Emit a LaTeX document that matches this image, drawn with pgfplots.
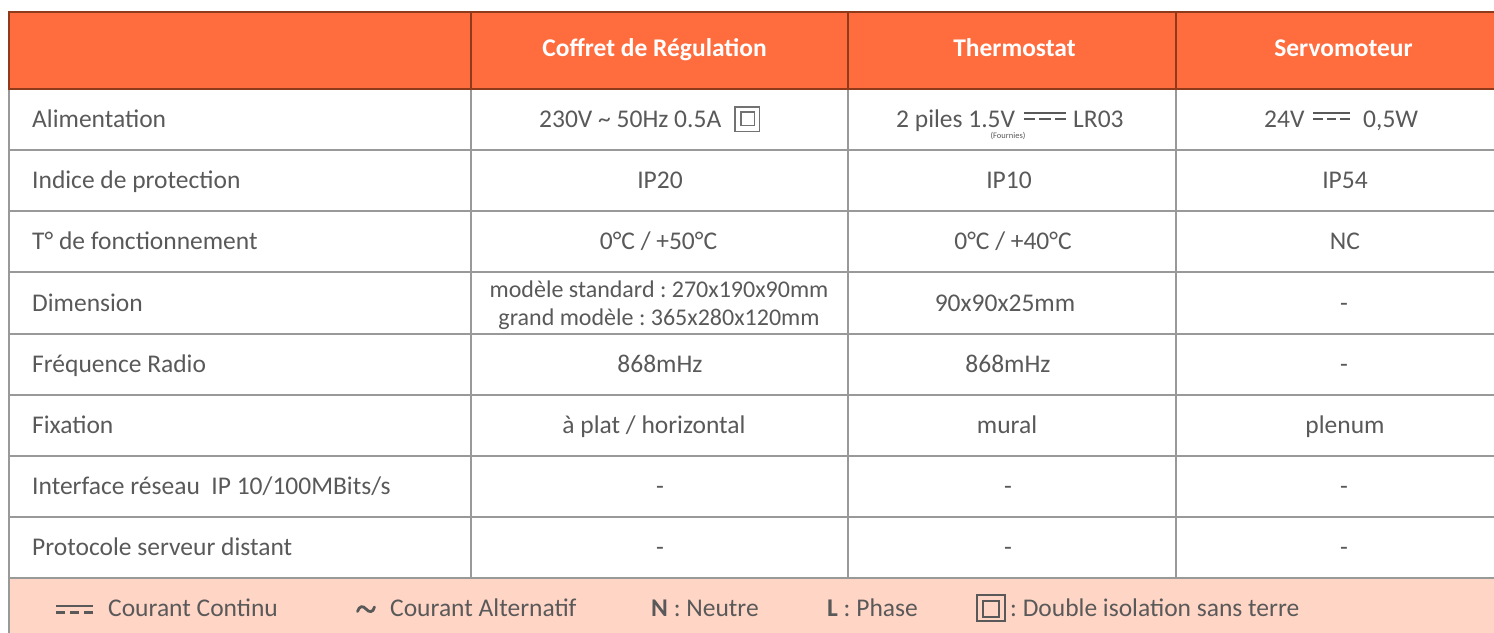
\documentclass[border=0pt]{standalone}
\usepackage{pgfplots}
\pgfplotsset{compat=1.18}
\usepackage{fontspec}
\setmainfont{Carlito}
\definecolor{hdr}{HTML}{FF6C3E}
\definecolor{hdrline}{HTML}{8E3B1C}
\definecolor{foot}{HTML}{FFD5C6}
\definecolor{txt}{HTML}{595959}
\definecolor{grid}{HTML}{999999}
\newcommand\body{\fontsize{25.5bp}{30bp}\selectfont\frenchspacing}
\tikzset{
  lab/.style={anchor=base west,inner sep=0pt,font=\body,text=txt},
  cell/.style={anchor=base,inner sep=0pt,font=\body,text=txt},
  head/.style={anchor=base,inner sep=0pt,font=\body\bfseries,text=white},
}
\begin{document}
\begin{tikzpicture}
\useasboundingbox (0,0) rectangle (1494bp,633bp);
\begin{axis}[at={(0,0)},anchor=south west,scale only axis,
  width=1494bp,height=633bp,xmin=0,xmax=1494,ymin=0,ymax=633,
  y dir=reverse,hide axis,clip=false]
% fills
\fill[hdr] (9,12) rectangle (1494,89);
\fill[foot] (9,578) rectangle (1494,633);
% grid
\foreach \y in {150,211,272,334,395,456,517,578}{
  \edef\temp{\noexpand\draw[grid,line width=2bp] (9,\y) -- (1494,\y);}\temp}
\draw[grid,line width=2bp] (9,89) -- (9,633);
\foreach \x in {471,848,1176}{
  \edef\temp{\noexpand\draw[grid,line width=2bp] (\x,89) -- (\x,578);}\temp}
% header borders
\draw[hdrline,line width=1.8bp] (1494,12) -- (9,12) -- (9,89) -- (1494,89);
\foreach \x in {471,848,1176}{
  \edef\temp{\noexpand\draw[hdrline,line width=1.8bp] (\x,12) -- (\x,89);}\temp}
% header text
\node[head] at (654.5,56.5) {Coffret de Régulation};
\node[head] at (1014.5,56.5) {Thermostat};
\node[head] at (1343.5,56.5) {Servomoteur};
% row labels
\node[lab] at (32,127) {Alimentation};
\node[lab] at (32,188) {Indice de protection};
\node[lab] at (32,249) {T° de fonctionnement};
\node[lab] at (32,311) {Dimension};
\node[lab] at (32,372) {Fréquence Radio};
\node[lab] at (32,433) {Fixation};
\node[lab] at (32,494) {Interface réseau\ \ IP 10/100MBits/s};
\node[lab] at (32,555) {Protocole serveur distant};
% row 1
\node[lab] at (539,127) {230V \textasciitilde{} 50Hz 0.5A};
\draw[txt!85,line width=1.3bp] (735,107) rectangle (759.5,131.5);
\draw[txt!85,line width=1.3bp] (741,112) rectangle (754.5,125.5);
\node[lab] at (896,127) {2 piles 1.5V};
\fill[txt] (1024,112.1) rectangle (1066,114.5);
\fill[txt] (1024,117.6) rectangle (1035.3,120);
\fill[txt] (1039.3,117.6) rectangle (1050.7,120);
\fill[txt] (1054.7,117.6) rectangle (1066,120);
\node[lab] at (1073,127) {LR03};
\node[anchor=base,inner sep=0pt,font=\fontsize{8.5bp}{9bp}\selectfont,text=txt] at (1008,138.5) {(Fournies)};
\node[lab] at (1264,127) {24V};
\fill[txt] (1313,112.1) rectangle (1350,114.5);
\fill[txt] (1313,117.6) rectangle (1322.7,120);
\fill[txt] (1326.7,117.6) rectangle (1336.3,120);
\fill[txt] (1340.3,117.6) rectangle (1350,120);
\node[lab] at (1363,127) {0,5W};
% row 2
\node[cell] at (660,188) {IP20};
\node[cell] at (1009,188) {IP10};
\node[cell] at (1345,188) {IP54};
% row 3
\node[cell] at (658.5,249) {0°C / +50°C};
\node[cell] at (1013,249) {0°C / +40°C};
\node[cell] at (1345,249) {NC};
% row 4
\node[cell,font=\fontsize{24bp}{28bp}\selectfont\frenchspacing] at (659,297) {modèle standard : 270x190x90mm};
\node[cell,font=\fontsize{24bp}{28bp}\selectfont\frenchspacing] at (659,325) {grand modèle : 365x280x120mm};
\node[cell] at (1005,311) {90x90x25mm};
\node[cell] at (1344,311) {-};
% row 5
\node[cell] at (660,372) {868mHz};
\node[cell] at (1008,372) {868mHz};
\node[cell] at (1344,372) {-};
% row 6
\node[cell] at (654,433) {à plat / horizontal};
\node[cell] at (1007,433) {mural};
\node[cell] at (1345,433) {plenum};
% row 7
\node[cell] at (660,494) {-};
\node[cell] at (1008,494) {-};
\node[cell] at (1344,494) {-};
% row 8
\node[cell] at (660,555) {-};
\node[cell] at (1008,555) {-};
\node[cell] at (1344,555) {-};
% footer
\fill[txt] (55.7,604.8) rectangle (93.3,607.4);
\fill[txt] (55.7,611) rectangle (64.7,613.6);
\fill[txt] (69.7,611) rectangle (79,613.6);
\fill[txt] (84,611) rectangle (93.3,613.6);
\node[lab] at (108,616) {Courant Continu};
\draw[txt,line width=2.8bp,line cap=round] (357.5,611.5) .. controls (359.5,605.5) and (363,605.5) .. (366,609) .. controls (369,612.5) and (373,613) .. (374.5,607);
\node[lab] at (390,616) {Courant Alternatif};
\node[lab] at (651,616) {\textbf{N} : Neutre};
\node[lab] at (827,616) {\textbf{L} : Phase};
\draw[txt,line width=1.8bp] (977.3,595) rectangle (1004.7,620.7);
\draw[txt,line width=1.8bp] (983.3,600.7) rectangle (998.7,616.7);
\node[lab] at (1010,616) {: Double isolation sans terre};
\end{axis}
\end{tikzpicture}
\end{document}
